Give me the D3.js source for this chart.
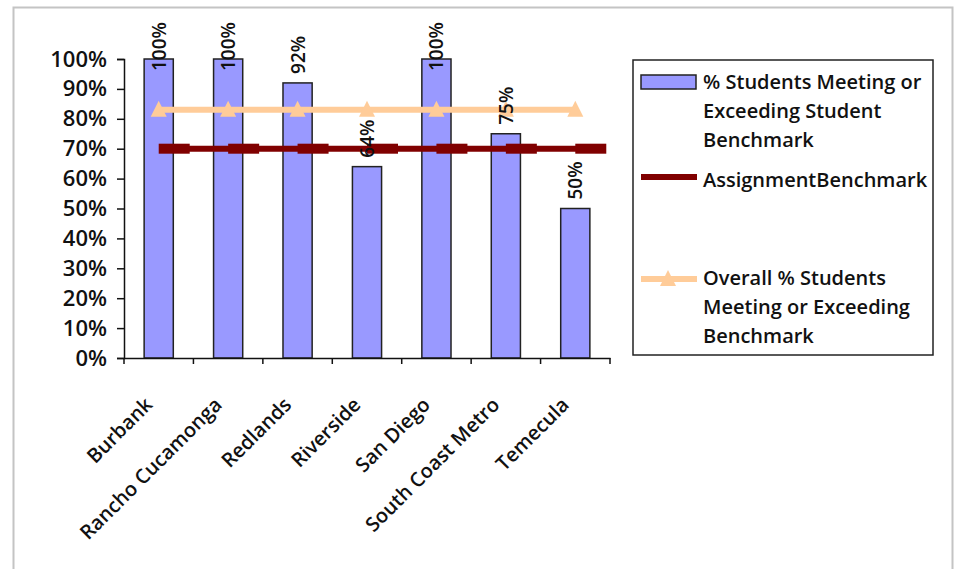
<!DOCTYPE html>
<html>
<head>
<meta charset="utf-8">
<script src="https://cdn.jsdelivr.net/npm/d3@7"></script>
<style>
  html, body { margin: 0; padding: 0; background: #fff; }
  svg { display: block; }
  text { font-family: "Open Sans", "Lato", sans-serif; fill: #111; }
</style>
</head>
<body>
<svg id="chart" width="963" height="569"></svg>
<script>
const categories = ["Burbank", "Rancho Cucamonga", "Redlands", "Riverside", "San Diego", "South Coast Metro", "Temecula"];
const studentPct = [100, 100, 92, 64, 100, 75, 50];
const assignmentBenchmark = [70, 70, 70, 70, 70, 70, 70];
const overallPct = [83, 83, 83, 83, 83, 83, 83];
const yTicks = [0, 10, 20, 30, 40, 50, 60, 70, 80, 90, 100];
const legendLabels = [
  ["% Students Meeting or", "Exceeding Student", "Benchmark"],
  ["AssignmentBenchmark"],
  ["Overall % Students", "Meeting or Exceeding", "Benchmark"]
];

const svg = d3.select("#chart");
const W = 963, H = 569;
const plot = { left: 124, right: 610, top: 59, bottom: 358 };

// outer frame (no bottom edge visible)
svg.append("path")
  .attr("d", `M13.5,${H} V7.5 H952.5 V${H}`)
  .attr("fill", "none").attr("stroke", "#c4c4c4").attr("stroke-width", 2);

const x = d3.scaleBand().domain(categories).range([plot.left, plot.right]).paddingInner(0).paddingOuter(0);
const y = d3.scaleLinear().domain([0, 100]).range([plot.bottom, plot.top]);

// bars
const barW = x.bandwidth() * 0.42;
svg.append("g").selectAll("rect").data(categories).join("rect")
  .attr("x", (d) => x(d) + x.bandwidth() / 2 - barW / 2)
  .attr("y", (d, i) => y(studentPct[i]))
  .attr("width", barW)
  .attr("height", (d, i) => y(0) - y(studentPct[i]))
  .attr("fill", "#9999ff")
  .attr("stroke", "#222")
  .attr("stroke-width", 1.5);

// axes
const yAxis = svg.append("g").attr("transform", `translate(${plot.left},0)`)
  .call(d3.axisLeft(y).tickValues(yTicks).tickFormat((d) => d + "%").tickSize(7).tickPadding(10));
yAxis.select(".domain").attr("stroke", "#111").attr("stroke-width", 1.5);
yAxis.selectAll(".tick line").attr("stroke", "#111").attr("stroke-width", 1.5);
yAxis.selectAll(".tick text").attr("font-size", 22).attr("font-weight", 600).attr("font-family", "Open Sans").attr("fill", "#111");

const xAxis = svg.append("g").attr("transform", `translate(0,${plot.bottom})`)
  .call(d3.axisBottom(x).tickSize(0).tickFormat(""));
xAxis.select(".domain").attr("stroke", "#111").attr("stroke-width", 1.5);
// boundary ticks
const bounds = categories.map((c) => x(c)).concat([plot.right]);
svg.append("g").selectAll("line").data(bounds).join("line")
  .attr("x1", (d) => d).attr("x2", (d) => d)
  .attr("y1", plot.bottom).attr("y2", plot.bottom + 6)
  .attr("stroke", "#111").attr("stroke-width", 1.5);

// category labels rotated -45
svg.append("g").selectAll("text").data(categories).join("text")
  .attr("transform", (d) => `translate(${x(d) + x.bandwidth() / 2 - 5},${plot.bottom + 48}) rotate(-45)`)
  .attr("text-anchor", "end")
  .attr("font-size", 20).attr("font-weight", 600)
  .text((d) => d);

// assignment benchmark line (dark red) with dash markers
const cx = (i) => x(categories[i]) + x.bandwidth() / 2;
const redLine = d3.line().x((d, i) => cx(i) + 15.5).y((d) => y(d));
svg.append("path").datum(assignmentBenchmark)
  .attr("d", redLine).attr("fill", "none").attr("stroke", "#800000").attr("stroke-width", 6);
svg.append("g").selectAll("rect").data(assignmentBenchmark).join("rect")
  .attr("x", (d, i) => cx(i)).attr("y", (d) => y(d) - 5)
  .attr("width", 31).attr("height", 10).attr("fill", "#800000");

// overall line (peach) with triangle markers
const orLine = d3.line().x((d, i) => cx(i)).y((d) => y(d));
svg.append("path").datum(overallPct)
  .attr("d", orLine).attr("fill", "none").attr("stroke", "#ffcc99").attr("stroke-width", 6);
const tri = (px, py) => `M${px},${py - 9} L${px + 8},${py + 7} L${px - 8},${py + 7} Z`;
svg.append("g").selectAll("path").data(overallPct).join("path")
  .attr("d", (d, i) => tri(cx(i), y(d))).attr("fill", "#ffcc99");

// value labels (rotated -90)
const labelG = svg.append("g");
studentPct.forEach((v, i) => {
  const t = labelG.append("text")
    .attr("font-size", 19).attr("font-weight", 600)
    .attr("text-anchor", "start").attr("dominant-baseline", "central")
    .text(v + "%");
  const len = t.node().getComputedTextLength();
  let bottom = y(v) - 9;
  if (bottom - len < 22) bottom = 22 + len;
  t.attr("transform", `translate(${cx(i)},${bottom}) rotate(-90)`);
});

// legend
const lg = svg.append("g");
lg.append("rect").attr("x", 633).attr("y", 60).attr("width", 300).attr("height", 295)
  .attr("fill", "#fff").attr("stroke", "#222").attr("stroke-width", 1.5);
lg.append("rect").attr("x", 641).attr("y", 75).attr("width", 55).attr("height", 14)
  .attr("fill", "#9999ff").attr("stroke", "#222").attr("stroke-width", 1.5);
lg.append("line").attr("x1", 641).attr("x2", 697).attr("y1", 177).attr("y2", 177)
  .attr("stroke", "#800000").attr("stroke-width", 6);
lg.append("line").attr("x1", 641).attr("x2", 697).attr("y1", 279).attr("y2", 279)
  .attr("stroke", "#ffcc99").attr("stroke-width", 6);
lg.append("path").attr("d", tri(668, 279)).attr("fill", "#ffcc99");
const legendBase = [89, 187, 285];
legendLabels.forEach((lines, k) => {
  lines.forEach((s, j) => {
    lg.append("text").attr("x", 703).attr("y", legendBase[k] + j * 29)
      .attr("font-size", 20).attr("font-weight", 600).text(s);
  });
});
</script>
</body>
</html>
